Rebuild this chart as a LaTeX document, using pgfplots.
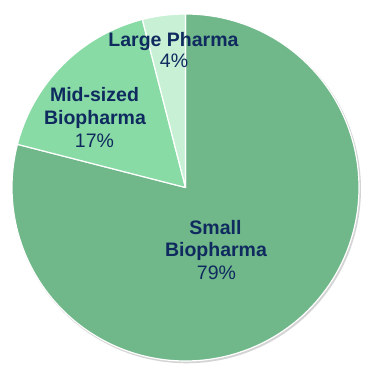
\documentclass[border=0pt]{standalone}
\usepackage{pgfplots}
\pgfplotsset{compat=1.18}
\usepackage{fontspec}
\setmainfont{Liberation Sans}
\definecolor{cSmall}{HTML}{70B78A}
\definecolor{cMid}{HTML}{88DBA5}
\definecolor{cLarge}{HTML}{C8F0D5}
\definecolor{navy}{HTML}{0F2A5E}
\definecolor{shadow}{HTML}{D4D4D4}
% shares (percent)
\def\shareSmall{79}
\def\shareMid{17}
\def\shareLarge{4}
\pgfmathsetmacro{\aA}{90}
\pgfmathsetmacro{\aB}{\aA-3.6*\shareSmall}
\pgfmathsetmacro{\aC}{\aB-3.6*\shareMid}
\pgfmathsetmacro{\aD}{\aC-3.6*\shareLarge}
\def\cx{185.5}
\def\cy{187.5}
\def\R{173.5}
\tikzset{lbl/.style={anchor=base, text=navy, inner sep=0pt, font=\fontsize{19.5}{22}\selectfont}}
\begin{document}
\begin{tikzpicture}
\begin{axis}[
  scale only axis, width=369pt, height=375pt,
  xmin=0, xmax=369, ymin=0, ymax=375,
  hide axis, clip=false,
]
% shadow
\addplot[draw=none, fill=shadow, samples=200, domain=0:360]
  ({\cx+1.2+(\R+0.8)*cos(x)},{\cy-1.5+(\R+0.8)*sin(x)}) -- cycle;
% slices
\addplot[fill=cSmall, draw=white, line width=1.2pt, line join=round, samples=300, domain=\aB:\aA]
  ({\cx+\R*cos(x)},{\cy+\R*sin(x)}) -- (axis cs:\cx,\cy) -- cycle;
\addplot[fill=cMid, draw=white, line width=1.2pt, line join=round, samples=80, domain=\aC:\aB]
  ({\cx+\R*cos(x)},{\cy+\R*sin(x)}) -- (axis cs:\cx,\cy) -- cycle;
\addplot[fill=cLarge, draw=white, line width=1.2pt, line join=round, samples=30, domain=\aD:\aC]
  ({\cx+\R*cos(x)},{\cy+\R*sin(x)}) -- (axis cs:\cx,\cy) -- cycle;
% labels
\node[lbl] at (axis cs:173.5,328) {\bfseries Large Pharma};
\node[lbl] at (axis cs:174,307) {4\%};
\node[lbl] at (axis cs:94.5,273) {\bfseries Mid-sized};
\node[lbl] at (axis cs:95,250) {\bfseries Biopharma};
\node[lbl] at (axis cs:94.5,227.3) {17\%};
\node[lbl] at (axis cs:215.5,140.7) {\bfseries Small};
\node[lbl] at (axis cs:216,118) {\bfseries Biopharma};
\node[lbl] at (axis cs:216.5,95) {79\%};
\end{axis}
\path (current axis.south west) rectangle (current axis.north east);
\end{tikzpicture}
\end{document}
